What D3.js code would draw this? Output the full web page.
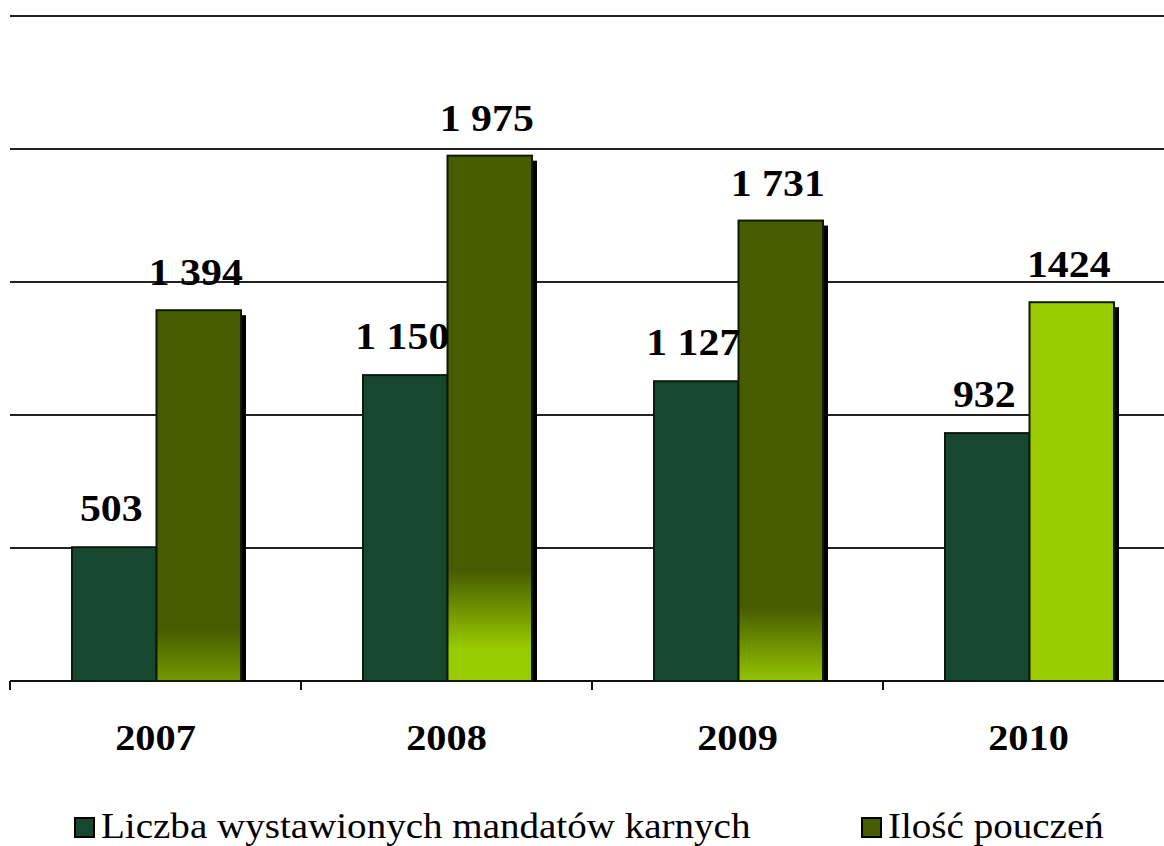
<!DOCTYPE html>
<html><head><meta charset="utf-8">
<script src="https://cdn.jsdelivr.net/npm/d3@7"></script>
<style>body{margin:0;background:#fff}svg{display:block}</style>
</head><body>
<svg id="c" width="1164" height="846"></svg>
<script>
const years = ["2007","2008","2009","2010"];
const mandaty = [503, 1150, 1127, 932];
const pouczenia = [1394, 1975, 1731, 1424];
const mandatyLabels = ["503","1 150","1 127","932"];
const pouczeniaLabels = ["1 394","1 975","1 731","1424"];
const seriesNames = ["Liczba wystawionych mandatów karnych","Ilość pouczeń"];
const yTicks = [0, 500, 1000, 1500, 2000, 2500];

const DARK = "#18472f", OLIVE = "#475c00", LIME = "#99cc00";
// gradient look of each "pouczenia" bar: [startOffset, endOffset, endColor]
const gradStyle = [[0.86, 1.0, "#729a00"], [0.79, 0.94, LIME], [0.84, 1.0, "#93c400"], [0, 0, LIME]];

const svg = d3.select("#c");
const x = d3.scaleBand().domain(years).range([10, 1174]).paddingInner(0).paddingOuter(0);
const y = d3.scaleLinear().domain([0, 2500]).range([681, 16]);
const sub = d3.scaleBand().domain([0,1]).range([0, 169]);
const groupOff = (x.bandwidth() - 169) / 2 + 1;
const SX = 1.1; // horizontal stretch of the text, as in the reference

const defs = svg.append("defs");
gradStyle.forEach((g, i) => {
  const lg = defs.append("linearGradient").attr("id", "g" + i)
    .attr("x1", 0).attr("y1", 0).attr("x2", 0).attr("y2", 1);
  if (i === 3) {
    lg.append("stop").attr("offset", 0).attr("stop-color", LIME);
    lg.append("stop").attr("offset", 1).attr("stop-color", LIME);
  } else {
    lg.append("stop").attr("offset", 0).attr("stop-color", OLIVE);
    lg.append("stop").attr("offset", g[0]).attr("stop-color", OLIVE);
    lg.append("stop").attr("offset", g[1]).attr("stop-color", g[2]);
    lg.append("stop").attr("offset", 1).attr("stop-color", g[2]);
  }
});

// gridlines
svg.append("g").selectAll("line").data(yTicks.slice(1)).join("line")
  .attr("x1", 10).attr("x2", 1164).attr("y1", d => y(d)).attr("y2", d => y(d))
  .attr("stroke", "#222").attr("stroke-width", 2);

// x axis
const xAxis = d3.axisBottom(x).tickSize(0).tickFormat("");
const ax = svg.append("g").attr("transform", "translate(0,681)").call(xAxis);
ax.select(".domain").attr("stroke", "#111").attr("stroke-width", 2).attr("d", "M10,0H1164");
svg.append("g").selectAll("line").data(years).join("line")
  .attr("x1", d => x(d)).attr("x2", d => x(d)).attr("y1", 681).attr("y2", 690)
  .attr("stroke", "#111").attr("stroke-width", 2);

// shadows for pouczenia bars
svg.append("g").selectAll("rect").data(years).join("rect")
  .attr("x", d => x(d) + groupOff + sub(1) + 5)
  .attr("y", (d, i) => y(pouczenia[i]) + 5)
  .attr("width", sub.bandwidth())
  .attr("height", (d, i) => 681 - y(pouczenia[i]) - 5)
  .attr("fill", "#000");

// mandaty bars
svg.append("g").selectAll("rect").data(years).join("rect")
  .attr("x", d => x(d) + groupOff + sub(0))
  .attr("y", (d, i) => y(mandaty[i]))
  .attr("width", sub.bandwidth())
  .attr("height", (d, i) => 681 - y(mandaty[i]))
  .attr("fill", DARK).attr("stroke", "#0a1a10").attr("stroke-width", 2);

// pouczenia bars
svg.append("g").selectAll("rect").data(years).join("rect")
  .attr("x", d => x(d) + groupOff + sub(1))
  .attr("y", (d, i) => y(pouczenia[i]))
  .attr("width", sub.bandwidth())
  .attr("height", (d, i) => 681 - y(pouczenia[i]))
  .attr("fill", (d, i) => `url(#g${i})`).attr("stroke", "#111a00").attr("stroke-width", 2);

// value labels
const lblFont = "'Liberation Serif','Times New Roman',serif";
svg.append("g").selectAll("text").data(years).join("text")
  .attr("transform", (d, i) => `translate(${x(d) + groupOff + sub(0) + sub.bandwidth() / 2 - 3},${y(mandaty[i]) - 26}) scale(${SX},1)`)
  .attr("text-anchor", "middle").attr("font-family", lblFont).attr("font-weight", "bold")
  .attr("font-size", 38).attr("fill", "#000").text((d, i) => mandatyLabels[i]);
svg.append("g").selectAll("text").data(years).join("text")
  .attr("transform", (d, i) => `translate(${x(d) + groupOff + sub(1) + sub.bandwidth() / 2 - 3},${y(pouczenia[i]) - 25}) scale(${SX},1)`)
  .attr("text-anchor", "middle").attr("font-family", lblFont).attr("font-weight", "bold")
  .attr("font-size", 38).attr("fill", "#000").text((d, i) => pouczeniaLabels[i]);

// category labels
svg.append("g").selectAll("text").data(years).join("text")
  .attr("transform", d => `translate(${x(d) + x.bandwidth() / 2},750) scale(1.12,1)`)
  .attr("text-anchor", "middle").attr("font-family", lblFont).attr("font-weight", "bold")
  .attr("font-size", 36).attr("fill", "#000").text(d => d);

// legend
const legX = [75, 862];
const legColors = [DARK, OLIVE];
const leg = svg.append("g").selectAll("g").data(seriesNames).join("g")
  .attr("transform", (d, i) => `translate(${legX[i]},818)`);
leg.append("rect").attr("width", 19).attr("height", 19)
  .attr("fill", (d, i) => legColors[i]).attr("stroke", "#000").attr("stroke-width", 2);
leg.append("text").attr("transform", "translate(26,20) scale(1.085,1)")
  .attr("font-family", lblFont).attr("font-size", 36).attr("fill", "#000").text(d => d);
</script>
</body></html>
